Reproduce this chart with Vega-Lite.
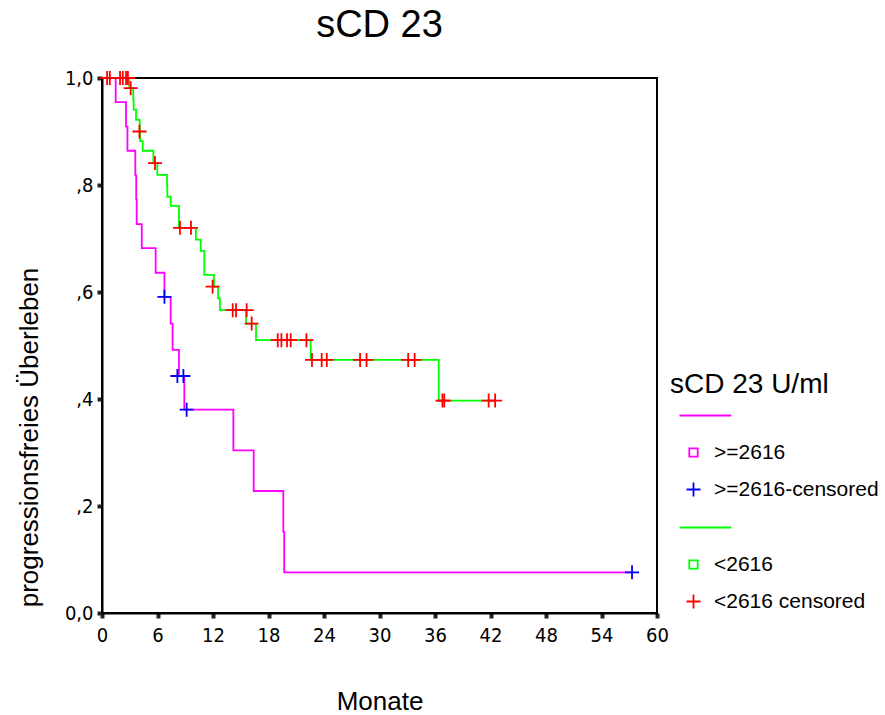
{
  "$schema": "https://vega.github.io/schema/vega-lite/v6.json",
  "width": 555,
  "height": 535,
  "autosize": {"type": "none"},
  "padding": {"left": 102, "top": 78, "right": 228, "bottom": 102},
  "background": "white",
  "title": {"text": "sCD 23", "font": "Liberation Sans", "fontSize": 38, "fontWeight": "normal", "color": "black", "anchor": "middle", "offset": 22},
  "config": {
    "view": {"stroke": "black", "strokeWidth": 2},
    "axis": {"grid": false, "domainColor": "black", "domainWidth": 2, "tickColor": "#222", "tickSize": 5, "tickWidth": 4, "labelFlush": false, "labelFont": "Liberation Sans Narrow, Arial Narrow, DejaVu Sans Condensed, sans-serif", "labelFontSize": 20, "labelColor": "black", "labelPadding": 4, "titleFont": "Liberation Sans", "titleFontSize": 26, "titleFontWeight": "normal", "titleColor": "black"}
  },
  "datasets": {
    "curves": [
      {"grp": ">=2616", "t": 0, "s": 1},
      {"grp": ">=2616", "t": 1.48, "s": 0.955},
      {"grp": ">=2616", "t": 2.6, "s": 0.909},
      {"grp": ">=2616", "t": 2.75, "s": 0.864},
      {"grp": ">=2616", "t": 3.6, "s": 0.818},
      {"grp": ">=2616", "t": 3.7, "s": 0.773},
      {"grp": ">=2616", "t": 3.75, "s": 0.727},
      {"grp": ">=2616", "t": 4.3, "s": 0.682},
      {"grp": ">=2616", "t": 5.8, "s": 0.636},
      {"grp": ">=2616", "t": 6.75, "s": 0.591},
      {"grp": ">=2616", "t": 7.42, "s": 0.541},
      {"grp": ">=2616", "t": 7.63, "s": 0.492},
      {"grp": ">=2616", "t": 8.32, "s": 0.443},
      {"grp": ">=2616", "t": 8.9, "s": 0.38},
      {"grp": ">=2616", "t": 14.2, "s": 0.304},
      {"grp": ">=2616", "t": 16.4, "s": 0.228},
      {"grp": ">=2616", "t": 19.6, "s": 0.152},
      {"grp": ">=2616", "t": 19.7, "s": 0.076},
      {"grp": ">=2616", "t": 57.3, "s": 0.076},
      {"grp": "<2616", "t": 0, "s": 1},
      {"grp": "<2616", "t": 2.95, "s": 0.981},
      {"grp": "<2616", "t": 3.38, "s": 0.959},
      {"grp": "<2616", "t": 3.42, "s": 0.941},
      {"grp": "<2616", "t": 3.68, "s": 0.922},
      {"grp": "<2616", "t": 4.08, "s": 0.9},
      {"grp": "<2616", "t": 4.12, "s": 0.882},
      {"grp": "<2616", "t": 4.4, "s": 0.864},
      {"grp": "<2616", "t": 5.55, "s": 0.841},
      {"grp": "<2616", "t": 5.98, "s": 0.819},
      {"grp": "<2616", "t": 7.03, "s": 0.8},
      {"grp": "<2616", "t": 7.06, "s": 0.778},
      {"grp": "<2616", "t": 7.43, "s": 0.761},
      {"grp": "<2616", "t": 8.32, "s": 0.72},
      {"grp": "<2616", "t": 10.15, "s": 0.698},
      {"grp": "<2616", "t": 10.67, "s": 0.677},
      {"grp": "<2616", "t": 11.06, "s": 0.632},
      {"grp": "<2616", "t": 12.1, "s": 0.61},
      {"grp": "<2616", "t": 12.55, "s": 0.588},
      {"grp": "<2616", "t": 12.75, "s": 0.566},
      {"grp": "<2616", "t": 15.57, "s": 0.541},
      {"grp": "<2616", "t": 16.65, "s": 0.51},
      {"grp": "<2616", "t": 22.56, "s": 0.473},
      {"grp": "<2616", "t": 36.4, "s": 0.397},
      {"grp": "<2616", "t": 42.5, "s": 0.397}
    ],
    "censored": [
      {"grp": ">=2616-censored", "t": 6.75, "s": 0.591},
      {"grp": ">=2616-censored", "t": 8.15, "s": 0.443},
      {"grp": ">=2616-censored", "t": 8.8, "s": 0.443},
      {"grp": ">=2616-censored", "t": 9.15, "s": 0.38},
      {"grp": ">=2616-censored", "t": 57.3, "s": 0.076},
      {"grp": "<2616 censored", "t": 0.55, "s": 1},
      {"grp": "<2616 censored", "t": 0.85, "s": 1},
      {"grp": "<2616 censored", "t": 1.95, "s": 1},
      {"grp": "<2616 censored", "t": 2.25, "s": 1},
      {"grp": "<2616 censored", "t": 2.6, "s": 1},
      {"grp": "<2616 censored", "t": 2.8, "s": 1},
      {"grp": "<2616 censored", "t": 3.1, "s": 0.981},
      {"grp": "<2616 censored", "t": 4.05, "s": 0.9},
      {"grp": "<2616 censored", "t": 5.73, "s": 0.841},
      {"grp": "<2616 censored", "t": 8.43, "s": 0.72},
      {"grp": "<2616 censored", "t": 9.62, "s": 0.72},
      {"grp": "<2616 censored", "t": 11.96, "s": 0.61},
      {"grp": "<2616 censored", "t": 14.13, "s": 0.566},
      {"grp": "<2616 censored", "t": 14.49, "s": 0.566},
      {"grp": "<2616 censored", "t": 15.64, "s": 0.566},
      {"grp": "<2616 censored", "t": 16.18, "s": 0.541},
      {"grp": "<2616 censored", "t": 19.0, "s": 0.51},
      {"grp": "<2616 censored", "t": 19.4, "s": 0.51},
      {"grp": "<2616 censored", "t": 20.0, "s": 0.51},
      {"grp": "<2616 censored", "t": 20.4, "s": 0.51},
      {"grp": "<2616 censored", "t": 22.1, "s": 0.51},
      {"grp": "<2616 censored", "t": 22.7, "s": 0.473},
      {"grp": "<2616 censored", "t": 23.75, "s": 0.473},
      {"grp": "<2616 censored", "t": 24.3, "s": 0.473},
      {"grp": "<2616 censored", "t": 27.9, "s": 0.473},
      {"grp": "<2616 censored", "t": 28.6, "s": 0.473},
      {"grp": "<2616 censored", "t": 33.1, "s": 0.473},
      {"grp": "<2616 censored", "t": 33.8, "s": 0.473},
      {"grp": "<2616 censored", "t": 36.8, "s": 0.397},
      {"grp": "<2616 censored", "t": 37.0, "s": 0.397},
      {"grp": "<2616 censored", "t": 41.8, "s": 0.397},
      {"grp": "<2616 censored", "t": 42.5, "s": 0.397}
    ]
  },
  "encoding": {
    "x": {"field": "t", "type": "quantitative", "scale": {"domain": [0, 60], "nice": false, "zero": false},
      "axis": {"values": [0, 6, 12, 18, 24, 30, 36, 42, 48, 54, 60], "labelPadding": 7, "title": "Monate", "titleY": 75, "titleBaseline": "top"}},
    "y": {"field": "s", "type": "quantitative", "scale": {"domain": [0, 1], "nice": false},
      "axis": {"values": [0, 0.2, 0.4, 0.6, 0.8, 1], "title": "progressionsfreies Überleben", "titleX": -60, "titleY": 359, "titleAngle": 270, "titleBaseline": "bottom", "titleAlign": "center",
        "labelExpr": "datum.value == 0 ? '0,0' : datum.value == 1 ? '1,0' : ',' + format(datum.value * 10, 'd')"}},
    "color": {"field": "grp", "type": "nominal",
      "scale": {"domain": ["sep1", ">=2616", ">=2616-censored", "sep2", "<2616", "<2616 censored"], "range": ["#ff00ff", "#ff00ff", "#0000ff", "#00ff00", "#00ff00", "#ff0000"]},
      "legend": {"title": "sCD 23 U/ml", "orient": "none", "legendX": 568, "legendY": 293,
        "titleFont": "Liberation Sans", "titleFontSize": 28, "titleFontWeight": "normal", "titleColor": "black", "titlePadding": 6, "titleLimit": 0,
        "labelFont": "Liberation Sans", "labelFontSize": 21, "labelColor": "black", "labelOffset": 10, "labelLimit": 0,
        "symbolOffset": 13, "symbolSize": 196, "symbolStrokeWidth": 1.8, "rowPadding": 15,
        "labelExpr": "indexof(datum.label, 'sep') == 0 ? '' : datum.label"}}
  },
  "layer": [
    {
      "data": {"name": "curves"},
      "mark": {"type": "line", "interpolate": "step-after", "strokeWidth": 1.8}
    },
    {
      "data": {"name": "censored"},
      "mark": {"type": "point", "filled": false, "size": 196, "strokeWidth": 1.8, "opacity": 1},
      "encoding": {
        "shape": {"field": "grp", "type": "nominal",
          "scale": {"domain": ["sep1", ">=2616", ">=2616-censored", "sep2", "<2616", "<2616 censored"],
            "range": ["M-2,0H5.4", "M-0.6,-0.6H0.6V0.6H-0.6Z", "M-1,0H1M0,-1V1", "M-2,0H5.4", "M-0.6,-0.6H0.6V0.6H-0.6Z", "M-1,0H1M0,-1V1"]},
          "legend": {"title": "sCD 23 U/ml", "orient": "none", "legendX": 568, "legendY": 293,
            "titleFont": "Liberation Sans", "titleFontSize": 28, "titleFontWeight": "normal", "titleColor": "black", "titlePadding": 6, "titleLimit": 0,
            "labelFont": "Liberation Sans", "labelFontSize": 21, "labelColor": "black", "labelOffset": 10, "labelLimit": 0,
            "symbolOffset": 13, "symbolSize": 196, "symbolStrokeWidth": 1.8, "rowPadding": 15,
            "labelExpr": "indexof(datum.label, 'sep') == 0 ? '' : datum.label"}}
      }
    }
  ]
}
